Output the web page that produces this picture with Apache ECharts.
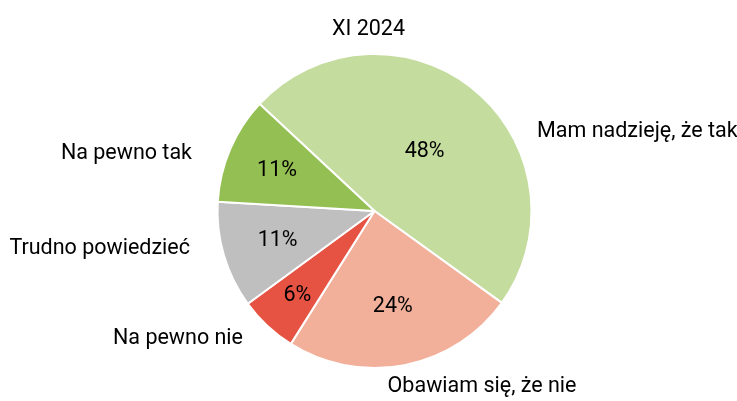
<!DOCTYPE html>
<html><head><meta charset="utf-8">
<script src="https://cdn.jsdelivr.net/npm/echarts@6/dist/echarts.min.js"></script>
<style>html,body{margin:0;padding:0;background:#fff}#c{width:737px;height:401px}</style>
</head><body><div id="c"></div>
<script>
const categories = ['Mam nadzieję, że tak', 'Obawiam się, że nie', 'Na pewno nie', 'Trudno powiedzieć', 'Na pewno tak'];
const values = [48, 24, 6, 11, 11];
const colors = ['#c4dc9e', '#f2b09b', '#e65343', '#bfbfbf', '#93bf53'];
const title = 'XI 2024';

// layout constants (label placement, not data)
const CX = 374.5, CY = 211, R = 157, START = 137;
const innerDist = [79, 96, 113, 101, 106];
const outerAnchor = [[537,132,'left'],[482,387,'center'],[243,339,'right'],[190,249,'right'],[192,154,'right']];

const total = values.reduce((a,b)=>a+b,0);
const mids = [];
let acc = 0;
values.forEach(v => { mids.push(START - (acc + v/2)/total*360); acc += v; });

const data = categories.map((n,i)=>({name:n, value:values[i], itemStyle:{color:colors[i]}}));
const font = 'Roboto';
const FS = 21.5;
const chart = echarts.init(document.getElementById('c'));
chart.setOption({
  animation:false,
  title:{text:title, left:'center', top:14, textStyle:{fontFamily:font, fontSize:FS, fontWeight:'normal', color:'#000'}},
  series:[{
    type:'pie', center:[CX,CY], radius:[0,R], startAngle:START, clockwise:true,
    data:data,
    itemStyle:{borderColor:'#fff', borderWidth:2},
    label:{show:true, position:'inside', formatter:p=>p.value+'%', fontFamily:font, fontSize:FS, color:'#000'},
    labelLine:{show:false},
    labelLayout:function(p){
      const a = mids[p.dataIndex]*Math.PI/180, d = innerDist[p.dataIndex];
      return {x: CX + d*Math.cos(a), y: CY + 1.5 - d*Math.sin(a), align:'center', verticalAlign:'middle'};
    }
  },{
    type:'pie', center:[CX,CY], radius:[0,R], startAngle:START, clockwise:true, silent:true,
    data:data.map(d=>({name:d.name, value:d.value})),
    itemStyle:{color:'rgba(0,0,0,0)'},
    label:{show:true, position:'outside', formatter:'{b}', fontFamily:font, fontSize:FS, color:'#000', overflow:'none', width:300},
    labelLine:{show:false},
    labelLayout:function(p){
      const o = outerAnchor[p.dataIndex];
      return {x:o[0], y:o[1], align:o[2], verticalAlign:'middle'};
    }
  }]
});
</script></body></html>
